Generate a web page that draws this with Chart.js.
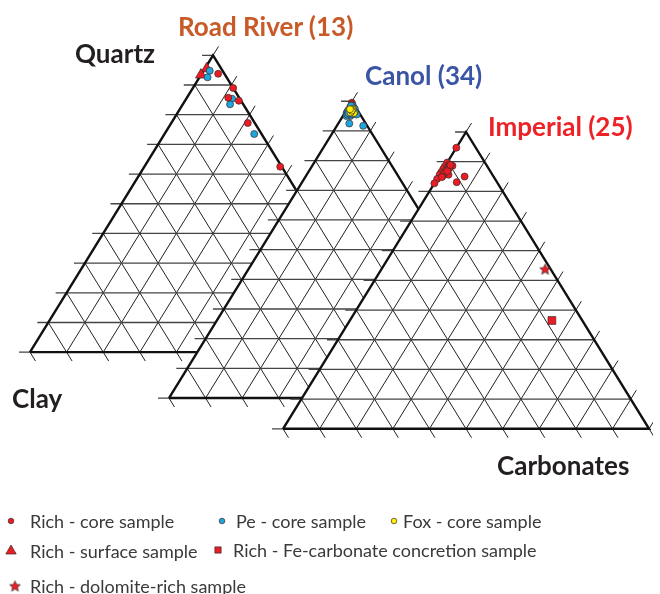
<!DOCTYPE html>
<html>
<head>
<meta charset="utf-8">
<script src="https://cdn.jsdelivr.net/npm/chart.js@4.4.1/dist/chart.umd.min.js"></script>
<style>
  html, body { margin: 0; padding: 0; background: #fff; }
  #wrap { position: relative; width: 660px; height: 594px; overflow: hidden; font-family: Lato, "Open Sans", sans-serif; }
  #c { position: absolute; left: 0; top: 0; }
  .lbl { position: absolute; white-space: nowrap; font-weight: 700; font-size: 26px; line-height: 26px; }
  .legtxt { position: absolute; white-space: nowrap; font-size: 18px; line-height: 20px; color: #3a3a3a; }
  .legmk { position: absolute; width: 16px; height: 16px; }
</style>
</head>
<body>
<div id="wrap">
  <canvas id="c" width="660" height="594"></canvas>
  <div class="lbl" style="left:178px;top:13px;color:#c85a27">Road River (13)</div>
  <div class="lbl" style="left:75px;top:40px;color:#231f20">Quartz</div>
  <div class="lbl" style="left:365px;top:62px;color:#3b55a5">Canol (34)</div>
  <div class="lbl" style="left:488px;top:113px;color:#ec2227">Imperial (25)</div>
  <div class="lbl" style="left:12px;top:385px;color:#231f20">Clay</div>
  <div class="lbl" style="left:497px;top:452px;color:#231f20">Carbonates</div>
  <div id="legend"></div>
</div>
<script>
// ---------- DATA: compositions [quartz %, clay %, carbonates %] ----------
const gridPercents = [0, 10, 20, 30, 40, 50, 60, 70, 80, 90, 100];

// Road River (13)
const roadRiverRichCore    = [[93.8, 1.7, 4.5], [89, 0, 11], [85.7, 3, 11.3], [84.7, 0.6, 14.7], [77.2, 1.9, 20.9], [62.5, 0.4, 37.1]];
const roadRiverRichSurface = [[95.5, 4, 0.5], [93.4, 6.6, 0]];
const roadRiverPeCore      = [[94.8, 3.5, 1.7], [92.6, 5.2, 2.2], [85.4, 2.1, 12.5], [83.5, 3.6, 12.9], [73.5, 2, 24.5]];

// Canol (34)
const canolRichCore = [[99.5, 0.3, 0.2], [99, 0.5, 0.5]];
const canolPeCore   = [[98.5, 0.5, 1], [98, 1, 1], [97.5, 1.5, 1], [96, 3.5, 0.5], [95.5, 1, 3.5], [96.5, 2.5, 1],
                       [95, 3, 2], [92.5, 4.5, 3], [91.7, 1.1, 7.2], [97, 2, 1], [96, 2, 2], [97, 1, 2],
                       [96.5, 3, 0.5], [95.5, 2.5, 2], [97.5, 0.5, 2], [96, 1.5, 2.5], [95, 4, 1], [97, 2.5, 0.5],
                       [98, 1.5, 0.5], [96.5, 1, 2.5], [95.5, 3.5, 1], [97, 1.5, 1.5], [96, 3, 1], [98.5, 1, 0.5]];
const canolFoxCore  = [[97, 2, 1], [96, 1.5, 2.5], [97.5, 1, 1.5], [96.5, 2, 1.5], [96.2, 2.3, 1.5], [97.2, 1.3, 1.5], [96.8, 1.7, 1.5], [97.3, 1.9, 0.8]];

// Imperial (25)
const imperialRichCore = [[94.7, 5.3, 0], [89.7, 10.3, 0], [88.7, 10, 1.3], [88.4, 11.6, 0], [88.6, 9.4, 2], [87.5, 12.5, 0],
                          [87.1, 11.5, 1.4], [86.4, 13.6, 0], [85.6, 12, 2.4], [85.6, 14.4, 0], [84.2, 15.8, 0], [85, 7.9, 7.1],
                          [83.1, 11, 5.9], [82.7, 17.3, 0], [88, 11, 1], [87, 12, 1], [86, 13, 1], [89, 10, 1],
                          [87.8, 10.7, 1.5], [86.8, 11.7, 1.5], [85, 14, 1], [84.8, 14.2, 1], [88.9, 9.8, 1.3]];
const imperialRichDolomite = [[53.8, 1.5, 44.7]];
const imperialRichFeCarb   = [[36.5, 8.3, 55.2]];

// ---------- STYLE / LAYOUT ----------
const RED = '#ec1c24', BLUE = '#1ea7df', YELLOW = '#fff200', OUTLINE = '#3a2a2a';

function makeStar(size, fill, stroke) {
  const c = document.createElement('canvas');
  c.width = size; c.height = size;
  const g = c.getContext('2d');
  const cx = size / 2, cy = size / 2 + 0.5, R = size / 2 - 0.8, r = R * 0.45;
  g.beginPath();
  for (let i = 0; i < 10; i++) {
    const a = -Math.PI / 2 + i * Math.PI / 5;
    const rr = i % 2 ? r : R;
    g.lineTo(cx + rr * Math.cos(a), cy + rr * Math.sin(a));
  }
  g.closePath();
  g.fillStyle = fill; g.fill();
  g.lineWidth = 0.7; g.strokeStyle = stroke; g.stroke();
  return c;
}

const sampleTypes = {
  richCore:     { label: 'Rich - core sample',                     color: RED,    style: 'circle',   radius: 3.5 },
  peCore:       { label: 'Pe - core sample',                       color: BLUE,   style: 'circle',   radius: 3.5 },
  foxCore:      { label: 'Fox - core sample',                      color: YELLOW, style: 'circle',   radius: 3.5 },
  richSurface:  { label: 'Rich - surface sample',                  color: RED,    style: 'triangle', radius: 6.3 },
  richFeCarb:   { label: 'Rich - Fe-carbonate concretion sample',  color: RED,    style: 'rect',     radius: 5.5 },
  richDolomite: { label: 'Rich - dolomite-rich sample',            color: RED,    style: makeStar(13, RED, OUTLINE), radius: 6 }
};

const legendLayout = [
  { key: 'richCore',     mx: 11,  tx: 30,  y: 521, r: 2.8 },
  { key: 'peCore',       mx: 222, tx: 236, y: 521, r: 2.8 },
  { key: 'foxCore',      mx: 394, tx: 403, y: 521, r: 2.8 },
  { key: 'richSurface',  mx: 11,  tx: 30,  y: 551, r: 6 },
  { key: 'richFeCarb',   mx: 218, tx: 233, y: 550, r: 4.4 },
  { key: 'richDolomite', mx: 15,  tx: 30,  y: 586, r: 5 }
];

// triangle frames in chart units (x: 0..660, y: 0..594 top-down); series listed bottom to top
const frames = [
  { x0: 23.5,  y0: 353.5, w: 374, h: 304, base: 30,
    series: [['richSurface', roadRiverRichSurface], ['peCore', roadRiverPeCore], ['richCore', roadRiverRichCore]] },
  { x0: 165.5, y0: 400.5, w: 374, h: 304, base: 20,
    series: [['richCore', canolRichCore], ['peCore', canolPeCore], ['foxCore', canolFoxCore]] },
  { x0: 282,   y0: 432,   w: 374, h: 304, base: 10,
    series: [['richCore', imperialRichCore], ['richDolomite', imperialRichDolomite], ['richFeCarb', imperialRichFeCarb]] }
];

// ternary -> chart coordinates (fractions q, clay, carb)
function pt(f, q, cl, cb) {
  return { x: f.x0 + f.w * (cb + 0.5 * q), y: f.y0 - f.h * q };
}
const GAP = { x: null, y: null };

function gridDatasets(f) {
  const e = 0.03, Hz = [], Sl = [], Bs = [];
  gridPercents.forEach(p => {
    const t = p / 100;
    Hz.push(pt(f, t, 1 - t + e, -e), pt(f, t, 0, 1 - t), GAP);      // constant quartz, tick left
    Sl.push(pt(f, 0, 1 - t, t), pt(f, 1 - t + e, -e, t), GAP);      // constant carbonate, tick right
    Bs.push(pt(f, 1 - t, t, 0), pt(f, -e, t, 1 - t + e), GAP);      // constant clay, tick bottom
  });
  const common = { showLine: true, pointRadius: 0, fill: false, spanGaps: false, tension: 0 };
  return [
    Object.assign({ data: Hz, borderColor: '#444', borderWidth: 1.3, order: f.base + 8 }, common),
    Object.assign({ data: Sl, borderColor: '#222', borderWidth: 1, order: f.base + 8 }, common),
    Object.assign({ data: Bs, borderColor: '#222', borderWidth: 1, order: f.base + 8 }, common)
  ];
}

const datasets = [];
frames.forEach(f => {
  const L = pt(f, 0, 1, 0), R = pt(f, 0, 0, 1), A = pt(f, 1, 0, 0);
  // white background of the triangle
  datasets.push({ data: [L, R, A, L], showLine: true, pointRadius: 0, fill: 'shape', backgroundColor: '#ffffff',
                  borderColor: 'rgba(0,0,0,0)', borderWidth: 0, order: f.base + 9 });
  gridDatasets(f).forEach(d => datasets.push(d));
  // outline
  datasets.push({ data: [L, R, A, L], showLine: true, pointRadius: 0, fill: false, borderColor: '#111',
                  borderWidth: 2.4, borderJoinStyle: 'miter', order: f.base + 7 });
  f.series.forEach((s, i) => {
    const st = sampleTypes[s[0]];
    datasets.push({
      label: st.label,
      data: s[1].map(v => { const sum = v[0] + v[1] + v[2]; return pt(f, v[0] / sum, v[1] / sum, v[2] / sum); }),
      showLine: false,
      pointStyle: st.style,
      pointRadius: st.radius,
      pointBackgroundColor: st.color,
      pointBorderColor: OUTLINE,
      pointBorderWidth: 0.7,
      order: f.base + 6 - i
    });
  });
});

const chart = new Chart(document.getElementById('c'), {
  type: 'scatter',
  data: { datasets },
  options: {
    responsive: false,
    animation: false,
    events: [],
    layout: { padding: 0 },
    plugins: { legend: { display: false }, tooltip: { enabled: false }, title: { display: false } },
    scales: {
      x: { type: 'linear', min: 0, max: 660, display: false },
      y: { type: 'linear', min: 0, max: 594, reverse: true, display: false }
    }
  }
});

// ---------- HTML legend built from the sample types ----------
const legendEl = document.getElementById('legend');
legendLayout.forEach(item => {
  const st = sampleTypes[item.key];
  const mk = document.createElement('canvas');
  mk.width = 16; mk.height = 16; mk.className = 'legmk';
  mk.style.left = (item.mx - 8) + 'px'; mk.style.top = (item.y - 8) + 'px';
  const g = mk.getContext('2d');
  if (typeof st.style === 'object') {
    g.drawImage(st.style, 8 - st.style.width / 2, 8 - st.style.height / 2);
  } else {
    g.fillStyle = st.color; g.strokeStyle = OUTLINE; g.lineWidth = 0.7;
    Chart.helpers.drawPoint(g, { pointStyle: st.style, radius: item.r, borderWidth: 0.7, rotation: 0 }, 8, 8);
  }
  legendEl.appendChild(mk);
  const tx = document.createElement('div');
  tx.className = 'legtxt';
  tx.textContent = st.label;
  tx.style.left = item.tx + 'px'; tx.style.top = (item.y - 10) + 'px';
  legendEl.appendChild(tx);
});
</script>
</body>
</html>
